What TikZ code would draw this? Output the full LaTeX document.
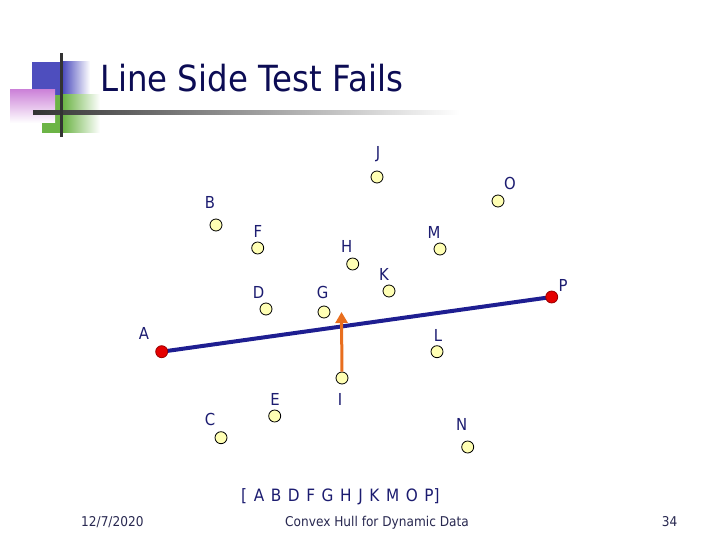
\documentclass[tikz,border=0pt]{standalone}
\usepackage{fontspec}
\setmainfont{DejaVu Sans}[FakeStretch=0.9]
\definecolor{titleblue}{RGB}{12,12,84}
\definecolor{lblblue}{RGB}{28,28,112}
\definecolor{hullblue}{RGB}{30,30,145}
\definecolor{footgray}{RGB}{40,40,80}
\definecolor{arrorange}{RGB}{232,110,30}
\definecolor{ptyellow}{RGB}{255,255,180}
\definecolor{logoblue}{RGB}{78,78,190}
\definecolor{logogreen}{RGB}{108,180,70}
\definecolor{logopink}{RGB}{196,110,210}
\tikzset{
  pt/.style={circle,draw=black,line width=0.8pt,fill=ptyellow,minimum size=12pt,inner sep=0pt},
  endpt/.style={circle,draw=red!60!black,line width=0.8pt,fill=red!90!black,minimum size=12pt,inner sep=0pt},
  lbl/.style={text=lblblue,inner sep=0pt,font=\fontsize{16.5}{16.5}\selectfont},
  hull/.style={hullblue,line width=4pt},
  push/.style={arrorange,line width=3pt,-{Triangle[length=11pt,width=12pt]}}
}
\usetikzlibrary{arrows.meta}
\begin{document}
\begin{tikzpicture}[x=1pt,y=-1pt]
		\useasboundingbox (0,0) rectangle (720,540);
		\fill [logoblue] (32,62) rectangle (63,95);
		\shade [left color=logoblue,right color=white] (63,62) rectangle (90,95);
		\fill [logogreen] (42,95) rectangle (63,133);
		\shade [left color=logogreen,right color=white] (63,95) rectangle (100,133);
		\shade [shading angle=225,top color=logopink!85,bottom color=white] (10,90) rectangle (55,123);
		\shade [left color=black!80,right color=white] (33,110.5) rectangle (460,114.5);
		\fill [black!80] (59.5,53) rectangle (62.5,137);
		\node [anchor=base west,inner sep=0pt,text=titleblue,font=\fontsize{36}{36}\selectfont] (title) at (100,91.5) {Line Side Test Fails};
		\draw [hull] (161.7,351.7) -- (551.7,297);
		\node [pt] (I) at (342,378) {};
		\coordinate (tip) at (341.5,312);
		\draw [push] (I) -- (tip);
		\node [endpt] (A) at (161.7,351.7) {};
		\node [endpt] (P) at (551.7,297) {};
		\node [pt] (B) at (216,225) {};
		\node [pt] (C) at (221,437.7) {};
		\node [pt] (D) at (266,309) {};
		\node [pt] (E) at (274.7,416) {};
		\node [pt] (F) at (257.7,248) {};
		\node [pt] (G) at (324,312) {};
		\node [pt] (H) at (352.7,264) {};
		\node [pt] (J) at (377,177) {};
		\node [pt] (K) at (389,291) {};
		\node [pt] (L) at (437,351.7) {};
		\node [pt] (M) at (440,249) {};
		\node [pt] (N) at (467.7,447) {};
		\node [pt] (O) at (498,201) {};
		\node [lbl] (lA) at (144,333) {A};
		\node [lbl] (lB) at (210,202) {B};
		\node [lbl] (lC) at (210,419) {C};
		\node [lbl] (lD) at (258.7,292) {D};
		\node [lbl] (lE) at (275,399) {E};
		\node [lbl] (lF) at (258,231) {F};
		\node [lbl] (lG) at (322.7,292) {G};
		\node [lbl] (lH) at (346.7,246) {H};
		\node [lbl] (lI) at (340,399) {I};
		\node [lbl] (lJ) at (378,154) {J};
		\node [lbl] (lK) at (384,274) {K};
		\node [lbl] (lL) at (438,335) {L};
		\node [lbl] (lM) at (434,232.7) {M};
		\node [lbl] (lN) at (461.7,424) {N};
		\node [lbl] (lO) at (510,183) {O};
		\node [lbl] (lP) at (563,285) {P};
		\node [anchor=base west,inner sep=0pt,text=lblblue,font=\fontsize{17}{17}\selectfont] (hulllist) at (241,501.7) {\spaceskip=6.6pt\relax [ A B D F G H J K M O P]};
		\node [anchor=base west,inner sep=0pt,text=footgray,font=\fontsize{13.5}{14}\selectfont] (date) at (81,526.5) {12/7/2020};
		\node [anchor=base,inner sep=0pt,text=footgray,font=\fontsize{13.5}{14}\selectfont] (foot) at (377,526.5) {Convex Hull for Dynamic Data};
		\node [anchor=base east,inner sep=0pt,text=footgray,font=\fontsize{13.5}{14}\selectfont] (page) at (677.5,526.5) {34};
\end{tikzpicture}
\end{document}
